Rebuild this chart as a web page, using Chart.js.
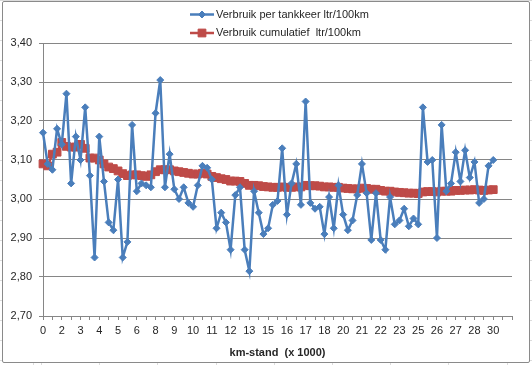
<!DOCTYPE html>
<html>
<head>
<meta charset="utf-8">
<script src="https://cdn.jsdelivr.net/npm/chart.js@4.4.1/dist/chart.umd.min.js"></script>
<style>
  html, body { margin: 0; padding: 0; }
  body {
    width: 532px; height: 365px; overflow: hidden; position: relative;
    background-color: #fff;
    background-image:
      repeating-linear-gradient(90deg, #dcdcdc 0 1px, transparent 1px 58.2px),
      repeating-linear-gradient(180deg, #dcdcdc 0 1px, transparent 1px 20px);
    background-position: 41px 0, 0 0;
  }
  .frame {
    position: absolute; left: 2px; top: 1px; width: 526px; height: 360px;
    border: 1px solid #8a8a8a; border-radius: 2px; background: #fff;
  }
  .wrap { position: absolute; left: 0; top: 0; width: 532px; height: 365px; }
</style>
</head>
<body>
<div class="frame"></div>
<div class="wrap"><canvas id="chart" width="532" height="365"></canvas></div>
<script>
// km-stand (x 1000) per tankbeurt; last categories are empty rows
const kmLabels = [
  '0','0','1','1','2','2','2','3','3','3','4','4','4','4','5','5','5','6','6','6',
  '6','7','7','7','8','8','8','9','9','9','10','10','10','10','11','11','11','12','12','12',
  '12','13','13','13','13','14','14','14','15','15','15','16','16','16','17','17','17','17','18','18',
  '18','19','19','19','20','20','20','21','21','21','22','22','22','22','23','23','23','24','24','24',
  '25','25','25','25','26','26','26','27','27','27','28','28','28','28','29','29','30',
  '','','',''
];

const perTank = [
  3.17, 3.09, 3.075, 3.18, 3.14, 3.27, 3.04, 3.16, 3.10, 3.235,
  3.06, 2.85, 3.16, 3.045, 2.94, 2.92, 3.05, 2.85, 2.89, 3.19,
  3.02, 3.04, 3.035, 3.03, 3.22, 3.305, 3.03, 3.115, 3.025, 3.00,
  3.03, 2.99, 2.98, 3.035, 3.085, 3.08, 3.05, 2.925, 2.965, 2.94,
  2.87, 3.01, 3.03, 2.87, 2.815, 3.02, 2.965, 2.91, 2.925, 2.985,
  2.995, 3.13, 2.96, 3.04, 3.09, 2.985, 3.25, 2.99, 2.975, 2.98,
  2.91, 3.005, 2.925, 3.035, 2.96, 2.92, 2.945, 3.01, 3.09, 3.015,
  2.895, 3.015, 2.895, 2.87, 3.005, 2.935, 2.945, 2.975, 2.93, 2.95,
  2.935, 3.235, 3.095, 3.10, 2.90, 3.19, 3.02, 3.04, 3.12, 3.045,
  3.125, 3.055, 3.095, 2.99, 3.00, 3.085, 3.10
];

const cumulative = [
  3.09, 3.085, 3.115, 3.12, 3.145, 3.135, 3.133, 3.133, 3.14, 3.13,
  3.105, 3.105, 3.10, 3.09, 3.082, 3.078, 3.072, 3.065, 3.06, 3.062,
  3.062, 3.06, 3.058, 3.062, 3.07, 3.075, 3.075, 3.075, 3.072, 3.07,
  3.068, 3.066, 3.064, 3.064, 3.066, 3.064, 3.058, 3.055, 3.052, 3.05,
  3.046, 3.046, 3.045, 3.04, 3.035, 3.035, 3.034, 3.032, 3.031, 3.03,
  3.03, 3.031, 3.03, 3.03, 3.031, 3.031, 3.035, 3.034, 3.034, 3.033,
  3.031, 3.031, 3.03, 3.03, 3.028, 3.027, 3.026, 3.026, 3.028, 3.027,
  3.025, 3.025, 3.022, 3.02, 3.02, 3.018, 3.017, 3.016, 3.015, 3.015,
  3.014, 3.018, 3.019, 3.019, 3.018, 3.02, 3.02, 3.02, 3.022, 3.022,
  3.023, 3.023, 3.024, 3.023, 3.022, 3.023, 3.024
];

const seriesNames = ['Verbruik per tankkeer ltr/100km', 'Verbruik cumulatief  ltr/100km'];
const FONT = '"Liberation Sans", Arial, sans-serif';
const GRID = '#868686';

// Excel-style legend: short line with marker, one entry per row
const excelLegend = {
  id: 'excelLegend',
  afterDraw(chart) {
    const ctx = chart.ctx;
    const rowsY = [14.5, 33];
    chart.data.datasets.forEach((ds, i) => {
      const y = rowsY[i];
      ctx.save();
      ctx.strokeStyle = ds.borderColor;
      ctx.lineWidth = ds.borderWidth;
      ctx.beginPath(); ctx.moveTo(190, y); ctx.lineTo(214, y); ctx.stroke();
      ctx.fillStyle = ds.pointBackgroundColor;
      ctx.strokeStyle = ds.pointBorderColor;
      ctx.lineWidth = ds.pointBorderWidth;
      Chart.helpers.drawPoint(ctx, { pointStyle: ds.pointStyle, rotation: 0, radius: ds.pointRadius, borderWidth: ds.pointBorderWidth }, 202, y);
      ctx.fillStyle = '#262626';
      ctx.font = '11px ' + FONT;
      ctx.textBaseline = 'middle';
      ctx.fillText(ds.label, 216, y);
      ctx.restore();
    });
  }
};

new Chart(document.getElementById('chart'), {
  type: 'line',
  data: {
    labels: kmLabels,
    datasets: [
      {
        label: seriesNames[0], data: perTank,
        borderColor: '#4A7EBB', borderWidth: 2.5,
        pointStyle: 'rectRot', pointRadius: 3.5, pointBorderWidth: 1,
        pointBackgroundColor: '#4A7EBB', pointBorderColor: '#4A7EBB',
        tension: 0
      },
      {
        label: seriesNames[1], data: cumulative,
        borderColor: '#BE4B48', borderWidth: 2.5,
        pointStyle: 'rect', pointRadius: 5.5, pointBorderWidth: 1,
        pointBackgroundColor: '#BE4B48', pointBorderColor: '#BE4B48',
        tension: 0
      }
    ]
  },
  options: {
    responsive: false,
    animation: false,
    layout: { padding: { left: 0, right: 20, top: 43, bottom: 0 } },
    plugins: { legend: { display: false }, tooltip: { enabled: false } },
    scales: {
      x: {
        type: 'category',
        grid: {
          drawOnChartArea: false, drawTicks: true, tickLength: 4,
          color: c => c.index % 2 === 0 ? GRID : 'rgba(0,0,0,0)'
        },
        border: { display: false },
        ticks: {
          autoSkip: false, maxRotation: 0, minRotation: 0, padding: 4,
          color: '#262626', font: { family: FONT, size: 11 },
          callback: (v, i) => i % 4 === 0 ? kmLabels[i] : ''
        },
        title: {
          display: true, text: 'km-stand  (x 1000)', color: '#262626',
          font: { family: FONT, size: 11, weight: 'bold' }, padding: { top: 0, bottom: 5 }
        },
        afterFit: s => { s.height = 49; }
      },
      y: {
        min: 2.7, max: 3.4,
        grid: { color: GRID, tickLength: 4 },
        border: { display: true, color: GRID },
        ticks: {
          stepSize: 0.1, padding: 7, color: '#262626', font: { family: FONT, size: 11 },
          callback: v => v.toFixed(2).replace('.', ',')
        },
        afterFit: s => { s.width = 43; }
      }
    }
  },
  plugins: [excelLegend]
});
</script>
</body>
</html>
